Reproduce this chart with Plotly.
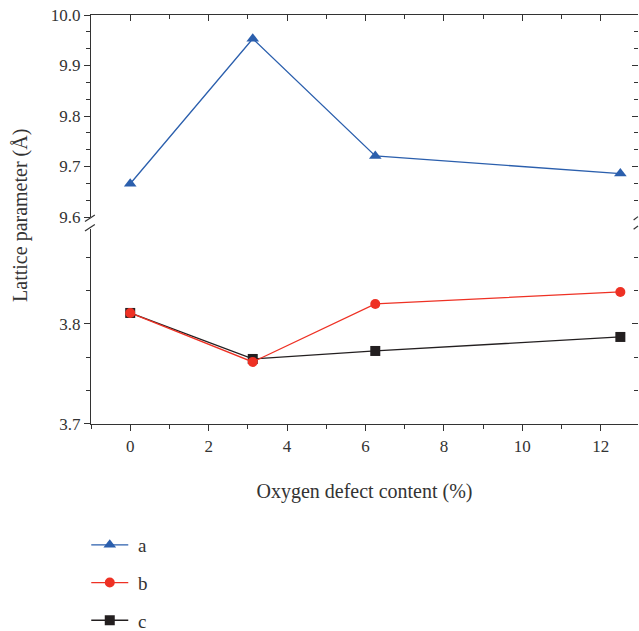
import plotly.graph_objects as go

oxygen = [0, 3.125, 6.25, 12.5]
a_vals = [9.666, 9.953, 9.721, 9.686]
b_vals = [3.811, 3.762, 3.820, 3.832]
c_vals = [3.811, 3.765, 3.773, 3.787]
names = ["a", "b", "c"]

FONT = "Liberation Serif"
AX = "#333333"
BLUE = "#2b5fad"
RED = "#ee3124"
BLACK = "#231f20"
PAD = "\u00a0"

fig = go.Figure()
fig.add_trace(go.Scatter(x=oxygen, y=a_vals, name=PAD + names[0], xaxis="x", yaxis="y2",
                         mode="lines+markers", legendgroup="a", legendrank=1,
                         line=dict(color=BLUE, width=1.3),
                         marker=dict(symbol="triangle-up", size=11, color=BLUE)))
fig.add_trace(go.Scatter(x=oxygen, y=c_vals, name=PAD + names[2], xaxis="x", yaxis="y",
                         mode="lines+markers", legendgroup="c", legendrank=3,
                         line=dict(color=BLACK, width=1.3),
                         marker=dict(symbol="square", size=10, color=BLACK)))
fig.add_trace(go.Scatter(x=oxygen, y=b_vals, name=PAD + names[1], xaxis="x", yaxis="y",
                         mode="lines+markers", legendgroup="b", legendrank=2,
                         line=dict(color=RED, width=1.3),
                         marker=dict(symbol="circle", size=10, color=RED)))

xr = [-1, 12.95]
lo_top = 0.477
up_bot = 0.506

common_y = dict(showgrid=False, zeroline=False, showline=True, linecolor=AX, linewidth=1.2,
                ticks="outside", ticklen=6, tickwidth=1.2, tickcolor=AX,
                tickfont=dict(family=FONT, size=17, color="#333"),
                dtick=0.1)

fig.update_layout(
    width=639, height=631,
    margin=dict(l=91, r=1, t=15, b=207, autoexpand=False),
    paper_bgcolor="white", plot_bgcolor="white",
    font=dict(family=FONT, color="#333"),
    xaxis=dict(range=xr, domain=[0, 1], anchor="y", showgrid=False, zeroline=False,
               showline=True, linecolor=AX, linewidth=1.2,
               ticks="outside", ticklen=6, tickwidth=1.2, tickcolor=AX,
               dtick=2, tick0=0,
               minor=dict(dtick=1, tick0=0, ticks="outside", ticklen=4, tickcolor=AX, tickwidth=1),
               tickfont=dict(family=FONT, size=17, color="#333"),
               title=dict(text="Oxygen defect content (%)", font=dict(family=FONT, size=20, color="#333"), standoff=29)),
    xaxis2=dict(range=xr, overlaying="x", side="top", anchor="y2", showgrid=False, zeroline=False,
                showline=True, linecolor=AX, linewidth=1.2,
                ticks="inside", ticklen=6, tickwidth=1.2, tickcolor=AX, dtick=2, tick0=0,
                minor=dict(dtick=1, tick0=0, ticks="inside", ticklen=4, tickcolor=AX, tickwidth=1),
                showticklabels=False),
    yaxis=dict(range=[3.7, 3.895], domain=[0, lo_top], anchor="x", tick0=3.7,
               minor=dict(dtick=0.1 / 3, tick0=3.7, ticks="outside", ticklen=4, tickcolor=AX, tickwidth=1),
               tickformat=".1f", **common_y),
    yaxis2=dict(range=[9.6, 10.0], domain=[up_bot, 1], anchor="x", tick0=9.6,
                minor=dict(dtick=0.1 / 3, tick0=9.6, ticks="outside", ticklen=4, tickcolor=AX, tickwidth=1),
                tickformat=".1f", **common_y),
    yaxis3=dict(range=[3.7, 3.895], overlaying="y", side="right", anchor="x", showgrid=False,
                zeroline=False, showline=False, ticks="inside", ticklen=6, tickwidth=1.2, tickcolor=AX,
                dtick=0.1, tick0=3.7, showticklabels=False,
                minor=dict(dtick=0.1 / 3, tick0=3.7, ticks="inside", ticklen=4, tickcolor=AX, tickwidth=1)),
    yaxis4=dict(range=[9.6, 10.0], overlaying="y2", side="right", anchor="x", showgrid=False,
                zeroline=False, showline=False, ticks="inside", ticklen=6, tickwidth=1.2, tickcolor=AX,
                dtick=0.1, tick0=9.6, showticklabels=False,
                minor=dict(dtick=0.1 / 3, tick0=9.6, ticks="inside", ticklen=4, tickcolor=AX, tickwidth=1)),
    legend=dict(xref="container", yref="container", x=0.135, xanchor="left", y=0.1664, yanchor="top",
                traceorder="grouped", tracegroupgap=10,
                font=dict(family=FONT, size=19, color="#333"),
                bgcolor="rgba(0,0,0,0)", itemwidth=37),
    showlegend=True,
)

# dummy traces so overlay axes render
fig.add_trace(go.Scatter(x=[None], y=[None], xaxis="x2", yaxis="y2", showlegend=False, hoverinfo="skip"))
fig.add_trace(go.Scatter(x=[None], y=[None], xaxis="x", yaxis="y3", showlegend=False, hoverinfo="skip"))
fig.add_trace(go.Scatter(x=[None], y=[None], xaxis="x", yaxis="y4", showlegend=False, hoverinfo="skip"))

# axis break marks
for yb in [up_bot - 0.003, lo_top + 0.003]:
    fig.add_shape(type="line", xref="x domain", yref="paper",
                  x0=-0.011, x1=0.007, y0=yb - 0.008, y1=yb + 0.008,
                  line=dict(color=AX, width=1.2))
    fig.add_shape(type="line", xref="x domain", yref="paper",
                  x0=0.992, x1=1.0, y0=yb - 0.004, y1=yb + 0.004,
                  line=dict(color=AX, width=1.2))

fig.add_annotation(text="Lattice parameter (Å)", xref="paper", yref="paper",
                   x=-0.13, xanchor="center", y=0.511, yanchor="middle", textangle=-90, showarrow=False,
                   font=dict(family=FONT, size=20, color="#333"))

fig.write_html("out.html")
